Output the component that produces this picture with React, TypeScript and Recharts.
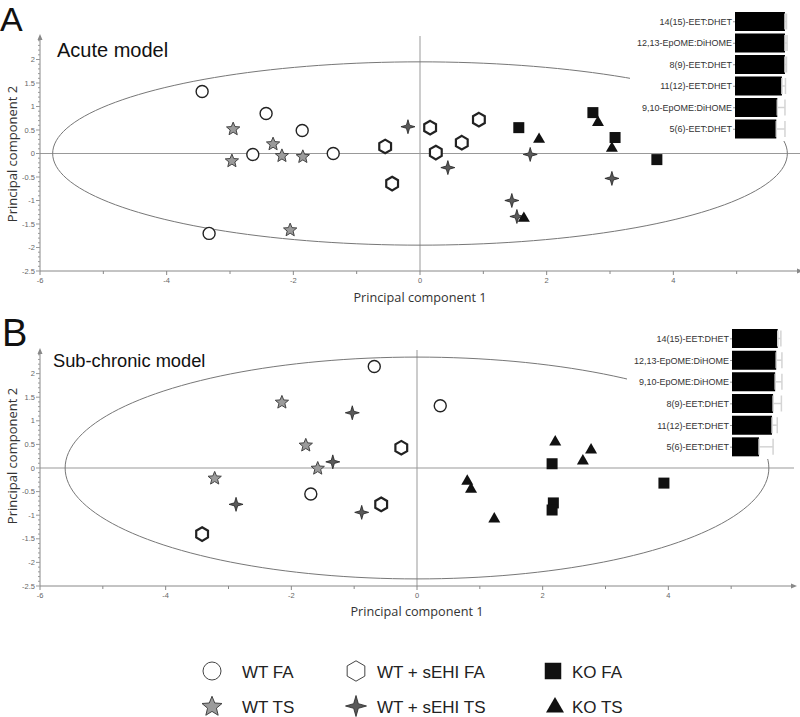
import React from 'react';
import {
    ScatterChart,
    Scatter,
    XAxis,
    YAxis,
    ReferenceLine,
    ReferenceDot,
    BarChart,
    Bar,
    ErrorBar
} from 'recharts';

type Pt = { x: number; y: number };

// Panel A - acute model (PC1 / PC2 scores)
const acuteWtFa: Pt[] = [
    { x: -3.44, y: 1.32 }, { x: -2.43, y: 0.85 }, { x: -1.86, y: 0.49 },
    { x: -2.64, y: -0.02 }, { x: -1.37, y: 0.0 }, { x: -3.33, y: -1.7 }
];
const acuteWtTs: Pt[] = [
    { x: -2.95, y: 0.53 }, { x: -2.97, y: -0.15 }, { x: -2.32, y: 0.21 },
    { x: -2.18, y: -0.04 }, { x: -1.85, y: -0.06 }, { x: -2.05, y: -1.62 }
];
const acuteSehFa: Pt[] = [
    { x: -0.55, y: 0.15 }, { x: -0.44, y: -0.64 }, { x: 0.16, y: 0.55 },
    { x: 0.25, y: 0.02 }, { x: 0.66, y: 0.23 }, { x: 0.93, y: 0.72 }
];
const acuteSehTs: Pt[] = [
    { x: -0.19, y: 0.57 }, { x: 0.44, y: -0.3 }, { x: 1.74, y: -0.02 },
    { x: 3.03, y: -0.53 }, { x: 1.45, y: -1.0 }, { x: 1.53, y: -1.34 }
];
const acuteKoFa: Pt[] = [
    { x: 1.56, y: 0.55 }, { x: 2.73, y: 0.87 }, { x: 3.08, y: 0.34 }, { x: 3.74, y: -0.13 }
];
const acuteKoTs: Pt[] = [
    { x: 1.88, y: 0.32 }, { x: 2.81, y: 0.68 }, { x: 3.03, y: 0.13 }, { x: 1.64, y: -1.36 }
];

// Panel B - sub-chronic model
const chronicWtFa: Pt[] = [{ x: -0.68, y: 2.15 }, { x: -1.69, y: -0.55 }, { x: 0.37, y: 1.32 }];
const chronicWtTs: Pt[] = [
    { x: -2.15, y: 1.4 }, { x: -1.77, y: 0.49 }, { x: -1.58, y: 0.0 }, { x: -3.22, y: -0.21 }
];
const chronicSehFa: Pt[] = [{ x: -3.42, y: -1.4 }, { x: -0.57, y: -0.77 }, { x: -0.25, y: 0.43 }];
const chronicSehTs: Pt[] = [
    { x: -1.03, y: 1.17 }, { x: -1.34, y: 0.13 }, { x: -2.88, y: -0.77 }, { x: -0.88, y: -0.94 }
];
const chronicKoFa: Pt[] = [
    { x: 2.15, y: 0.09 }, { x: 2.17, y: -0.74 }, { x: 2.15, y: -0.89 }, { x: 3.93, y: -0.32 }
];
const chronicKoTs: Pt[] = [
    { x: 2.2, y: 0.57 }, { x: 2.77, y: 0.4 }, { x: 2.64, y: 0.17 },
    { x: 0.8, y: -0.26 }, { x: 0.86, y: -0.43 }, { x: 1.23, y: -1.06 }
];

// Hotelling ellipse radii (PC1, PC2)
const acuteEllipse = { rx: 5.8, ry: 1.95 };
const chronicEllipse = { rx: 5.6, ry: 2.35 };

// loadings insets
const acuteLoadLabels = ['14(15)-EET:DHET', '12,13-EpOME:DiHOME', '8(9)-EET:DHET', '11(12)-EET:DHET', '9,10-EpOME:DiHOME', '5(6)-EET:DHET'];
const acuteLoadValues = [0.98, 0.98, 0.98, 0.92, 0.83, 0.81];
const acuteLoadErr = [0.03, 0.04, 0.03, 0.07, 0.15, 0.17];
const chronicLoadLabels = ['14(15)-EET:DHET', '12,13-EpOME:DiHOME', '9,10-EpOME:DiHOME', '8(9)-EET:DHET', '11(12)-EET:DHET', '5(6)-EET:DHET'];
const chronicLoadValues = [0.88, 0.85, 0.83, 0.79, 0.77, 0.52];
const chronicLoadErr = [0.06, 0.11, 0.13, 0.16, 0.1, 0.27];

const xTicks = [-6, -5, -4, -3, -2, -1, 0, 1, 2, 3, 4, 5];
// minor ticks every 0.1, labelled every 0.5 (top label is 2)
const yTicks = Array.from({ length: 50 }, (_, i) => Math.round((-2.5 + i * 0.1) * 10) / 10);

const ellipsePoints = (rx: number, ry: number) =>
    Array.from({ length: 181 }, (_, i) => {
        const t = (i / 180) * Math.PI * 2;
        return { x: rx * Math.cos(t), y: ry * Math.sin(t) };
    });

type Kind = 'circle' | 'star' | 'hex' | 'star4' | 'square' | 'triangle';

function polyPts(cx: number, cy: number, n: number, R: number, r: number, start: number) {
    const pts: string[] = [];
    for (let i = 0; i < n * 2; i++) {
        const a = start + (i * Math.PI) / n;
        const rad = i % 2 === 0 ? R : r;
        pts.push(`${cx + rad * Math.cos(a)},${cy + rad * Math.sin(a)}`);
    }
    return pts.join(' ');
}

function Marker({ kind, cx, cy, s = 1, legend = false }: { kind: Kind; cx: number; cy: number; s?: number; legend?: boolean }) {
    if (cx == null || cy == null) return <g />;
    switch (kind) {
        case 'circle':
            return <circle cx={cx} cy={cy} r={6 * s} fill="#fff" stroke={legend ? '#444' : '#222'} strokeWidth={legend ? 1 : 1.4} />;
        case 'star':
            return <polygon points={polyPts(cx, cy + 0.5 * s, 5, 7 * s, 3.1 * s, -Math.PI / 2)} fill="#9b9b9b" stroke="#444" strokeWidth={1} />;
        case 'hex': {
            const pts: string[] = [];
            for (let i = 0; i < 6; i++) {
                const a = -Math.PI / 2 + (i * Math.PI) / 3;
                pts.push(`${cx + 6.8 * s * Math.cos(a)},${cy + 6.8 * s * Math.sin(a)}`);
            }
            return <polygon points={pts.join(' ')} fill="#fff" stroke={legend ? '#444' : '#222'} strokeWidth={legend ? 1 : 2.2} />;
        }
        case 'star4':
            return <polygon points={polyPts(cx, cy, 4, 7 * s, 2.2 * s, -Math.PI / 2)} fill="#5a5a5a" stroke="#222" strokeWidth={0.8} />;
        case 'square':
            return <rect x={cx - 5.5 * s} y={cy - 5.5 * s} width={11 * s} height={11 * s} fill="#111" />;
        case 'triangle':
            return <polygon points={`${cx},${cy - 6 * s} ${cx - 6 * s},${cy + 4.4 * s} ${cx + 6 * s},${cy + 4.4 * s}`} fill="#111" />;
    }
    return <g />;
}

const shapeOf = (kind: Kind) => (p: any) => <Marker kind={kind} cx={p.cx} cy={p.cy} />;

const XTick = (props: any) => {
    const { x, y, payload } = props;
    const v = payload.value;
    const major = v % 2 === 0;
    return (
        <g>
            <line x1={x} x2={x} y1={y} y2={y + (major ? 4 : 3)} stroke="#888" />
            {major && (
                <text x={x} y={y + 12} textAnchor="middle" fontSize={7.5} fill="#666" fontFamily="Liberation Sans, Arial">
                    {v}
                </text>
            )}
        </g>
    );
};

const YTick = (props: any) => {
    const { x, y, payload } = props;
    const v = payload.value;
    const major = Math.abs(v * 2 - Math.round(v * 2)) < 1e-6;
    return (
        <g>
            <line x1={x - (major ? 4 : 2)} x2={x} y1={y} y2={y} stroke="#999" />
            {major && (
                <text x={x - 5} y={y + 2.5} textAnchor="end" fontSize={7.5} fill="#666" fontFamily="Liberation Sans, Arial">
                    {v}
                </text>
            )}
        </g>
    );
};

const upArrow = (p: any) => <path d={`M${p.cx},${p.cy - 2} l-2.5,6 l5,0 z`} fill="#888" />;
const rightArrow = (p: any) => <path d={`M${p.cx + 3},${p.cy} l-6,-2.5 l0,5 z`} fill="#888" />;

type Groups = { wtFa: Pt[]; wtTs: Pt[]; sehFa: Pt[]; sehTs: Pt[]; koFa: Pt[]; koTs: Pt[] };

function ScorePlot({ g, ellipse, width, height, margin }: { g: Groups; ellipse: { rx: number; ry: number }; width: number; height: number; margin: any }) {
    return (
        <ScatterChart width={width} height={height} margin={margin}>
            <XAxis
                type="number"
                dataKey="x"
                domain={[-6, 6]}
                ticks={xTicks}
                interval={0}
                tick={<XTick />}
                tickLine={false}
                tickSize={0}
                tickMargin={0}
                height={34}
                axisLine={{ stroke: '#888' }}
                allowDataOverflow
            />
            <YAxis
                type="number"
                dataKey="y"
                domain={[-2.5, 2.5]}
                ticks={yTicks}
                interval={0}
                tick={<YTick />}
                tickLine={false}
                tickSize={0}
                tickMargin={0}
                width={40}
                axisLine={{ stroke: '#888' }}
                allowDataOverflow
            />
            <ReferenceLine x={0} stroke="#999" />
            <ReferenceLine y={0} stroke="#999" />
            <ReferenceDot x={-6} y={2.5} r={3} shape={upArrow} ifOverflow="visible" />
            <ReferenceDot x={6} y={-2.5} r={3} shape={rightArrow} ifOverflow="visible" />
            <Scatter
                data={ellipsePoints(ellipse.rx, ellipse.ry)}
                line={{ stroke: '#777', strokeWidth: 1 }}
                lineJointType="linear"
                shape={() => <g />}
                isAnimationActive={false}
            />
            <Scatter data={g.wtFa} shape={shapeOf('circle')} isAnimationActive={false} />
            <Scatter data={g.wtTs} shape={shapeOf('star')} isAnimationActive={false} />
            <Scatter data={g.sehFa} shape={shapeOf('hex')} isAnimationActive={false} />
            <Scatter data={g.sehTs} shape={shapeOf('star4')} isAnimationActive={false} />
            <Scatter data={g.koFa} shape={shapeOf('square')} isAnimationActive={false} />
            <Scatter data={g.koTs} shape={shapeOf('triangle')} isAnimationActive={false} />
        </ScatterChart>
    );
}

function Loadings({ labels, values, errs, width, height, right }: { labels: string[]; values: number[]; errs: number[]; width: number; height: number; right: number }) {
    const data = labels.map((name, i) => ({ name, v: values[i], err: [0, errs[i]] }));
    return (
        <BarChart layout="vertical" width={width} height={height} data={data} margin={{ top: 1, right, bottom: 1, left: 0 }}>
            <XAxis type="number" domain={[0, 1]} hide />
            <YAxis
                type="category"
                dataKey="name"
                width={105}
                interval={0}
                tick={{ fontSize: 9, fill: '#333', fontFamily: 'Liberation Sans, Arial' }}
                tickSize={2}
                tickMargin={1}
                axisLine={false}
                tickLine={{ stroke: '#999' }}
            />
            <Bar dataKey="v" fill="#000" barSize={19} isAnimationActive={false}>
                <ErrorBar dataKey="err" direction="x" stroke="#d4d4d4" width={8} />
            </Bar>
        </BarChart>
    );
}

const legendItems: { kind: Kind; label: string; x: number; tx: number; row: number }[] = [
    { kind: 'circle', label: 'WT FA', x: 212, tx: 242, row: 0 },
    { kind: 'star', label: 'WT TS', x: 212, tx: 242, row: 1 },
    { kind: 'hex', label: 'WT + sEHI FA', x: 356, tx: 377, row: 0 },
    { kind: 'star4', label: 'WT + sEHI TS', x: 356, tx: 377, row: 1 },
    { kind: 'square', label: 'KO FA', x: 553, tx: 572, row: 0 },
    { kind: 'triangle', label: 'KO TS', x: 555, tx: 572, row: 1 }
];

export default function App() {
    const sans = 'Liberation Sans, Arial, sans-serif';
    const axisFont = 'Open Sans, sans-serif';
    return (
        <div style={{ position: 'absolute', left: 0, top: 0, width: 800, height: 717, background: '#fff', overflow: 'hidden' }}>
            <div style={{ position: 'absolute', left: 0, top: 0 }}>
                <ScorePlot
                    g={{ wtFa: acuteWtFa, wtTs: acuteWtTs, sehFa: acuteSehFa, sehTs: acuteSehTs, koFa: acuteKoFa, koTs: acuteKoTs }}
                    ellipse={acuteEllipse}
                    width={800}
                    height={305}
                    margin={{ top: 36, right: 0, bottom: 0, left: 0 }}
                />
            </div>
            <div style={{ position: 'absolute', left: 0, top: 315 }}>
                <ScorePlot
                    g={{ wtFa: chronicWtFa, wtTs: chronicWtTs, sehFa: chronicSehFa, sehTs: chronicSehTs, koFa: chronicKoFa, koTs: chronicKoTs }}
                    ellipse={chronicEllipse}
                    width={800}
                    height={305}
                    margin={{ top: 35, right: 6, bottom: 0, left: 0 }}
                />
            </div>
            <div style={{ position: 'absolute', left: 630, top: 10, background: '#fff' }}>
                <Loadings labels={acuteLoadLabels} values={acuteLoadValues} errs={acuteLoadErr} width={170} height={131} right={13} />
            </div>
            <div style={{ position: 'absolute', left: 627, top: 327, background: '#fff' }}>
                <Loadings labels={chronicLoadLabels} values={chronicLoadValues} errs={chronicLoadErr} width={163} height={132} right={6} />
            </div>
            <svg width={800} height={717} style={{ position: 'absolute', left: 0, top: 0, pointerEvents: 'none' }}>
                <text x={0} y={31} fontSize={34} fontFamily={sans} fill="#111">A</text>
                <text x={57} y={57} fontSize={20} fontFamily={sans} fill="#111">Acute model</text>
                <text transform="translate(17,154) rotate(-90)" textAnchor="middle" fontSize={13} fontFamily={axisFont} fill="#333">Principal component 2</text>
                <text x={420} y={302} textAnchor="middle" fontSize={12.7} fontFamily={axisFont} fill="#333">Principal component 1</text>

                <text x={2} y={346} fontSize={38} fontFamily={sans} fill="#111">B</text>
                <text x={53} y={367} fontSize={18.3} fontFamily={sans} fill="#111">Sub-chronic model</text>
                <text transform="translate(17,456) rotate(-90)" textAnchor="middle" fontSize={13} fontFamily={axisFont} fill="#333">Principal component 2</text>
                <text x={417} y={616} textAnchor="middle" fontSize={12.7} fontFamily={axisFont} fill="#333">Principal component 1</text>

                {legendItems.map((it) => {
                    const cy = it.row === 0 ? 671 : 706;
                    return (
                        <g key={it.label}>
                            <Marker kind={it.kind} cx={it.x} cy={cy} s={1.5} legend />
                            <text x={it.tx} y={cy + 7} fontSize={17} fontFamily={sans} fill="#222">{it.label}</text>
                        </g>
                    );
                })}
            </svg>
        </div>
    );
}
